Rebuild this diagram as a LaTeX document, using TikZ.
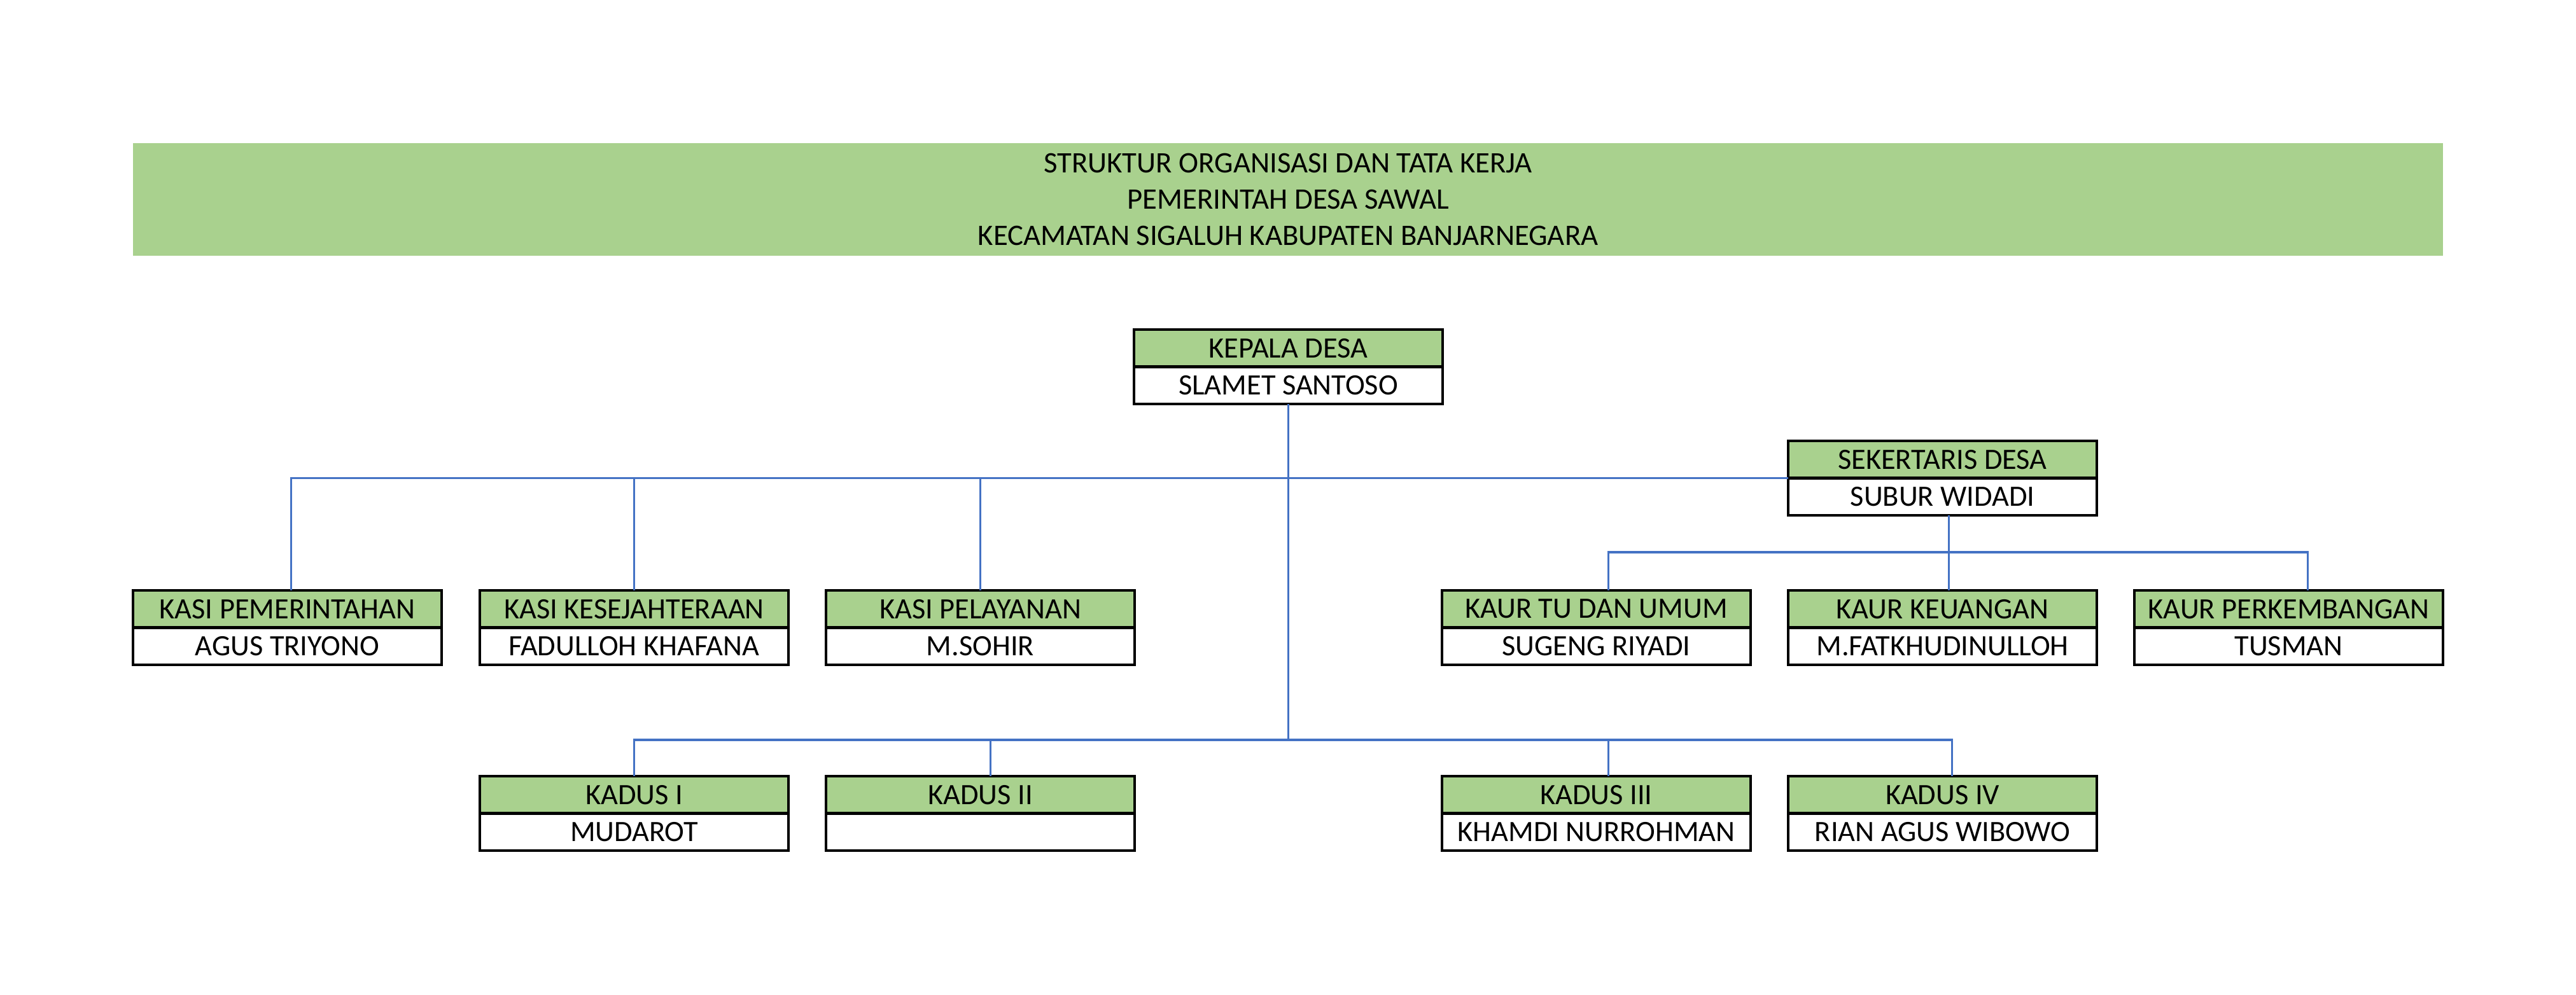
\documentclass[tikz,border=0pt]{standalone}
\usepackage{fontspec}
\setmainfont{Carlito}
\usetikzlibrary{positioning}
\definecolor{hijau}{HTML}{A9D18E}
\definecolor{biru}{HTML}{4472C4}
\tikzset{
  jabatan/.style={draw, line width=1.3pt, fill=hijau, minimum width=4.85cm, minimum height=0.585cm,
    inner sep=0pt, outer sep=0pt, font=\fontsize{13.2}{15}\selectfont},
  nama/.style={jabatan, fill=white},
  garis/.style={biru, line width=0.9pt}
}

\begin{document}
\begin{tikzpicture}
      \useasboundingbox (0,0) rectangle (40.48,-15.63);
      \node[fill=hijau, minimum width=36.3cm, minimum height=1.77cm, align=center,
        font=\fontsize{13.3}{16.2}\selectfont] (judul) at (20.24,-3.135)
        {STRUKTUR ORGANISASI DAN TATA KERJA\\PEMERINTAH DESA SAWAL\\KECAMATAN SIGALUH KABUPATEN BANJARNEGARA};
      \node[jabatan] (kades) at (20.245,-5.4725) {KEPALA DESA};
      \node[nama, below=0pt of kades] (kadesN) {SLAMET SANTOSO};
      \node[jabatan] (sekdes) at (30.525,-7.2225) {SEKERTARIS DESA};
      \node[nama, below=0pt of sekdes] (sekdesN) {SUBUR WIDADI};
      \node[jabatan] (kasi1) at (4.515,-9.5725) {KASI PEMERINTAHAN};
      \node[nama, below=0pt of kasi1] (kasi1N) {AGUS TRIYONO};
      \node[jabatan] (kasi2) at (9.965,-9.5725) {KASI KESEJAHTERAAN};
      \node[nama, below=0pt of kasi2] (kasi2N) {FADULLOH KHAFANA};
      \node[jabatan] (kasi3) at (15.405,-9.5725) {KASI PELAYANAN};
      \node[nama, below=0pt of kasi3] (kasi3N) {M.SOHIR};
      \node[jabatan] (kaur1) at (25.085,-9.5725) {KAUR TU DAN UMUM};
      \node[nama, below=0pt of kaur1] (kaur1N) {SUGENG RIYADI};
      \node[jabatan] (kaur2) at (30.525,-9.5725) {KAUR KEUANGAN};
      \node[nama, below=0pt of kaur2] (kaur2N) {M.FATKHUDINULLOH};
      \node[jabatan] (kaur3) at (35.965,-9.5725) {KAUR PERKEMBANGAN};
      \node[nama, below=0pt of kaur3] (kaur3N) {TUSMAN};
      \node[jabatan] (kadus1) at (9.965,-12.4925) {KADUS I};
      \node[nama, below=0pt of kadus1] (kadus1N) {MUDAROT};
      \node[jabatan] (kadus2) at (15.405,-12.4925) {KADUS II};
      \node[nama, below=0pt of kadus2] (kadus2N) {};
      \node[jabatan] (kadus3) at (25.085,-12.4925) {KADUS III};
      \node[nama, below=0pt of kadus3] (kadus3N) {KHAMDI NURROHMAN};
      \node[jabatan] (kadus4) at (30.525,-12.4925) {KADUS IV};
      \node[nama, below=0pt of kadus4] (kadus4N) {RIAN AGUS WIBOWO};
      \coordinate (busKadus) at (kadesN.south |- 0,-11.63);
      \coordinate (busKaur) at (30.62,-8.68);
      \draw[garis] (kadesN.south) -- (busKadus);
      \draw[garis] (kadus1.north) |- (busKadus) -| ([xshift=0.15cm]kadus4.north);
      \draw[garis] ([xshift=0.16cm]kadus2.north) -- ([xshift=0.16cm]kadus2.north |- busKadus);
      \draw[garis] ([xshift=0.19cm]kadus3.north) -- ([xshift=0.19cm]kadus3.north |- busKadus);
      \draw[garis] (sekdes.south west) -| ([xshift=0.06cm]kasi1.north);
      \draw[garis] (kasi2.north) -- (kasi2.north |- sekdes.south);
      \draw[garis] (kasi3.north) -- (kasi3.north |- sekdes.south);
      \draw[garis] ([xshift=0.1cm]sekdesN.south) -- ([xshift=0.1cm]kaur2.north);
      \draw[garis] ([xshift=0.19cm]kaur1.north) |- (busKaur) -| ([xshift=0.3cm]kaur3.north);
    \end{tikzpicture}
\end{document}
